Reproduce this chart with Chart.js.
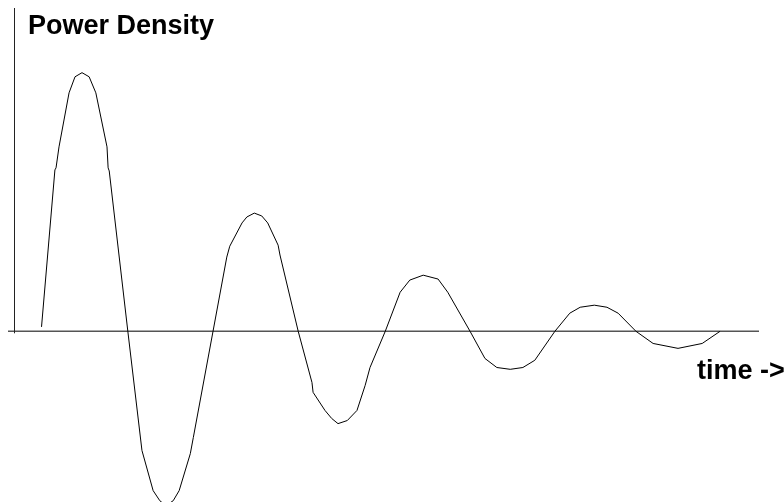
<!DOCTYPE html>
<html lang="en">
<head>
    <meta charset="UTF-8">
    <title>Power Density</title>
    <script src="https://cdn.jsdelivr.net/npm/chart.js"></script>
    <style>
        html, body { margin: 0; padding: 0; background: #fff; }
        #wrap { position: relative; width: 784px; height: 502px; }
    </style>
</head>
<body>
    <div id="wrap"><canvas id="chart"></canvas></div>

    <script>
        // time (arbitrary units, 0..100) and power density (peak = 100)
        const times = [
            3.7, 5.5, 5.65, 6.05, 7.4, 8.2, 9.14, 10.1, 11.0, 12.5, 12.65, 12.8,
            15.3, 17.2, 18.7, 19.6, 20.4, 21.4, 22.2, 23.7, 24.1,
            26.75, 28.6, 29.0, 30.65, 31.3, 32.3, 33.3, 34.1, 35.5, 35.75,
            38.2, 40.05, 40.2, 41.8, 42.7, 43.55, 44.8, 46.1, 47.2, 47.85,
            49.9, 51.9, 53.2, 55.0, 57.0, 58.3,
            61.3, 63.3, 64.9, 66.7, 68.4, 70.0,
            72.7, 74.7, 76.1, 78.0, 79.7, 81.2,
            83.6, 85.9, 89.25, 92.5, 94.9
        ];
        const density = [
            1.7, 62.4, 63.2, 71.3, 92.2, 98.4, 100, 98.4, 92.2, 71.3, 63.2, 62.0,
            0, -46.1, -61.6, -65.5, -67.4, -65.5, -61.6, -47.3, -41.1,
            0, 28.7, 32.9, 41.9, 44.2, 45.7, 44.6, 41.9, 33.3, 29.5,
            0, -19.8, -23.6, -30.6, -33.7, -35.7, -34.5, -30.6, -20.9, -14.0,
            0, 15.1, 19.8, 21.7, 20.2, 15.1,
            0, -10.5, -14.0, -14.7, -14.0, -11.2,
            0, 7.0, 9.3, 10.1, 9.3, 7.0,
            0, -4.7, -6.6, -4.7, 0
        ];
        const yLabel = 'Power Density';
        const xLabel = 'time ->';

        const points = times.map((t, i) => ({ x: t, y: density[i] }));

        // plain axes through the origin, plus the two axis captions
        const axesPlugin = {
            id: 'axes',
            beforeDatasetsDraw(chart) {
                const ctx = chart.ctx;
                const xs = chart.scales.x;
                const ys = chart.scales.y;
                const x0 = xs.getPixelForValue(0);
                const y0 = ys.getPixelForValue(0);
                ctx.save();
                ctx.lineWidth = 1.5;
                ctx.strokeStyle = '#555';
                ctx.beginPath();
                ctx.moveTo(x0 - 6, y0);
                ctx.lineTo(xs.getPixelForValue(100) + 1, y0);
                ctx.stroke();
                ctx.strokeStyle = '#222';
                ctx.lineWidth = 1;
                ctx.beginPath();
                ctx.moveTo(x0 + 0.5, ys.getPixelForValue(ys.max));
                ctx.lineTo(x0 + 0.5, y0 + 2);
                ctx.stroke();

                ctx.fillStyle = '#000';
                ctx.font = 'bold 27px "Liberation Sans", Arial, sans-serif';
                ctx.textBaseline = 'alphabetic';
                ctx.textAlign = 'left';
                ctx.fillText(yLabel, x0 + 14, 34);
                ctx.fillText(xLabel, xs.getPixelForValue(91.8), y0 + 48);
                ctx.restore();
            }
        };

        new Chart(document.getElementById('chart'), {
            type: 'line',
            data: {
                datasets: [{
                    data: points,
                    borderColor: '#000',
                    borderWidth: 1,
                    pointRadius: 0,
                    tension: 0,
                    fill: false,
                    clip: false
                }]
            },
            options: {
                responsive: true,
                maintainAspectRatio: false,
                animation: false,
                layout: { padding: { left: 14, right: 26, top: 8, bottom: 0 } },
                scales: {
                    x: { type: 'linear', min: 0, max: 100, display: false },
                    y: { type: 'linear', min: -66, max: 125, display: false }
                },
                plugins: {
                    legend: { display: false },
                    tooltip: { enabled: false }
                }
            },
            plugins: [axesPlugin]
        });
    </script>
</body>
</html>
